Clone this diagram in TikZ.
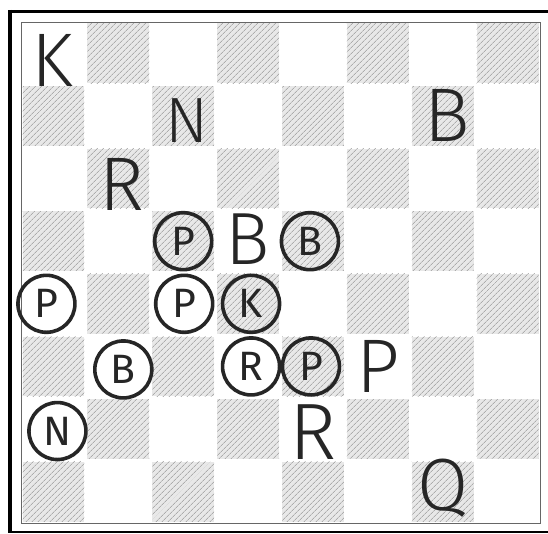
\documentclass[tikz,border=0pt]{standalone}
\usepackage{fontspec}
\newfontfamily\hand{Fira Sans}[UprightFont=* Light]
\newfontfamily\handreg{Fira Sans}
\usetikzlibrary{patterns.meta}
\begin{document}
\begin{tikzpicture}[x=1pt,y=-1pt,
  dark/.style={fill=black!9, postaction={pattern={Lines[angle=45,distance=4pt,line width=0.6pt]}, pattern color=black!45}},
  plain/.style={inner sep=0pt, text=black!85, font=\hand\fontsize{76}{76}\selectfont},
  circ/.style={draw=black!85, circle, line width=3.6pt, minimum size=57pt, inner sep=0pt, text=black!85, font=\handreg\fontsize{41}{41}\selectfont}]
\useasboundingbox (0,0) rectangle (548,534);
\fill[white] (0,0) rectangle (548,534);
\def\sw{64.875}
\def\sh{62.625}
\foreach \r in {1,...,8} {
  \foreach \c in {1,...,8} {
    \coordinate (s-\r-\c) at ({21+(\c-0.5)*\sw},{22+(\r-0.5)*\sh});
    \pgfmathtruncatemacro{\myparity}{mod(\r+\c,2)}
    \ifnum\myparity=1
      \path[dark] ({21+(\c-1)*\sw+1.5},{22+(\r-1)*\sh+1.5}) rectangle ++({\sw-3},{\sh-3});
    \fi
  }
}
% frame
\draw[black!60, line width=0.9pt] (21,22) rectangle (540,523);
\draw[line width=3pt] (548,11.5) -- (10,11.5);
\draw[line width=4pt] (10,10) -- (10,533);
\draw[line width=2pt] (10,532) -- (548,532);
% plain pieces
\node[plain] (wK) at ([xshift=-1pt,yshift=-7pt]s-1-1) {K};
\node[plain,font=\hand\fontsize{64}{64}\selectfont] (wN) at ([xshift=4pt,yshift=-5pt]s-2-3) {N};
\node[plain] (wB1) at ([xshift=5pt,yshift=0pt]s-2-7) {B};
\node[plain] (wR1) at ([xshift=4pt,yshift=-6pt]s-3-2) {R};
\node[plain,font=\hand\fontsize{74}{74}\selectfont] (wB2) at ([xshift=0pt,yshift=2pt]s-4-4) {B};
\node[plain] (wP) at (s-6-6) {P};
\node[plain,font=\hand\fontsize{80}{80}\selectfont] (wR2) at ([yshift=-3pt]s-7-5) {R};
\node[plain,font=\hand\fontsize{74}{74}\selectfont] (wQ) at ([yshift=4pt]s-8-7) {Q};
% circled pieces
\node[circ] (bP1) at ([xshift=0pt]s-4-3) {P};
\node[circ] (bB1) at ([xshift=-3pt]s-4-5) {B};
\node[circ] (bP2) at ([xshift=-7pt]s-5-1) {P};
\node[circ] (bP3) at ([xshift=1pt]s-5-3) {P};
\node[circ] (bK) at ([xshift=3pt]s-5-4) {K};
\node[circ] (bB2) at ([xshift=5pt,yshift=-3pt]s-6-2) {B};
\node[circ] (bR) at ([xshift=3pt]s-6-4) {R};
\node[circ] (bP4) at ([xshift=-2pt]s-6-5) {P};
\node[circ] (bN) at ([xshift=4pt,yshift=-2pt]s-7-1) {N};
\end{tikzpicture}
\end{document}
